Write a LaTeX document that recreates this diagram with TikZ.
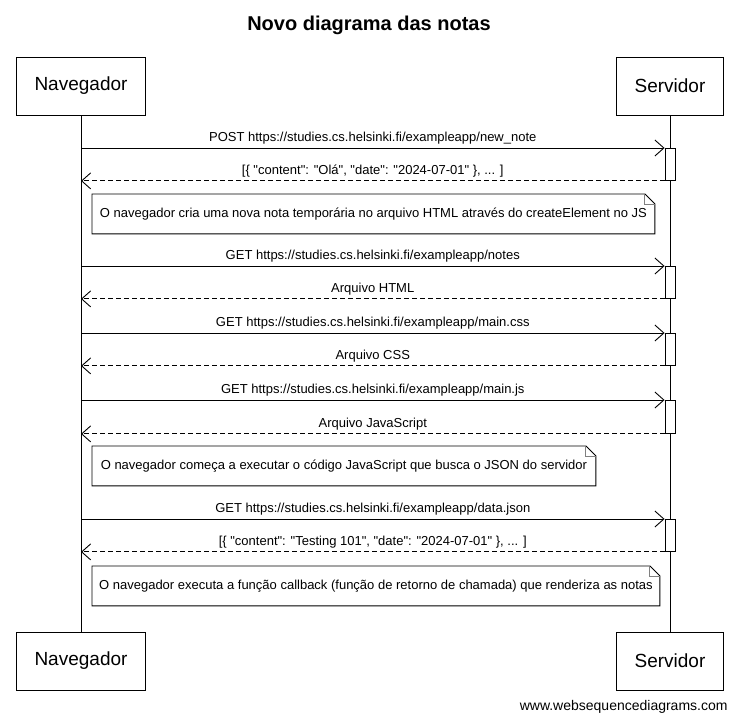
\documentclass[tikz,border=0pt]{standalone}
\usepackage{fontspec}
\setmainfont{Liberation Sans}[Ligatures=TeXOff]
\usetikzlibrary{arrows.meta,positioning}

\begin{document}
\begin{tikzpicture}[
x=1pt, y=-1pt,
line width=0.9pt,
participante/.style={
rectangle,
draw,
inner xsep=18pt,
minimum height=58pt,
font=\fontsize{19}{22}\selectfont
},
ativacao/.style={
rectangle,
draw,
fill=white,
inner sep=0pt,
anchor=north,
minimum width=10pt,
minimum height=32pt
},
nota/.style={
anchor=north west,
minimum height=39pt,
inner sep=0pt,
font=\fontsize{13}{15}\selectfont
},
dobra/.style={
draw=gray
},
msg/.style={
-{Straight Barb[length=9pt,width=16pt]}
},
ret/.style={
msg,
dash pattern=on 5pt off 3pt
},
rotulo/.style={
midway,
above,
inner sep=3pt,
font=\fontsize{13}{15}\selectfont
}
]
\useasboundingbox (0,0) rectangle (738,723);

% Titulo
\node[font=\fontsize{20}{24}\selectfont\bfseries] (titulo) at (369,25) {Novo diagrama das notas};

% Participantes
\node[participante] (nav) at (81,86) {Navegador};
\node[participante] (srv) at (670,86) {Servidor};
\node[participante] (nav-fim) at (81,661) {Navegador};
\node[participante] (srv-fim) at (670,661) {Servidor};
\draw (nav) -- (nav-fim);
\draw (srv) -- (srv-fim);

% Ativacoes
\node[ativacao] (ativ-post) at (670,148) {};
\node[ativacao] (ativ-notes) at (670,266) {};
\node[ativacao] (ativ-css) at (670,333) {};
\node[ativacao, minimum height=33pt] (ativ-js) at (670,400) {};
\node[ativacao] (ativ-json) at (670,519) {};

% Mensagens
\draw[msg] (nav |- ativ-post.north west) -- (ativ-post.north west) node[rotulo] {POST https://studies.cs.helsinki.fi/exampleapp/new\_note};
\draw[ret] (ativ-post.south west) -- (nav |- ativ-post.south west) node[rotulo] {[\{ "content": "Olá", "date": "2024-07-01" \}, ... ]};
\draw[msg] (nav |- ativ-notes.north west) -- (ativ-notes.north west) node[rotulo] {GET https://studies.cs.helsinki.fi/exampleapp/notes};
\draw[ret] (ativ-notes.south west) -- (nav |- ativ-notes.south west) node[rotulo] {Arquivo HTML};
\draw[msg] (nav |- ativ-css.north west) -- (ativ-css.north west) node[rotulo] {GET https://studies.cs.helsinki.fi/exampleapp/main.css};
\draw[ret] (ativ-css.south west) -- (nav |- ativ-css.south west) node[rotulo] {Arquivo CSS};
\draw[msg] (nav |- ativ-js.north west) -- (ativ-js.north west) node[rotulo] {GET https://studies.cs.helsinki.fi/exampleapp/main.js};
\draw[ret] (ativ-js.south west) -- (nav |- ativ-js.south west) node[rotulo] {Arquivo JavaScript};
\draw[msg] (nav |- ativ-json.north west) -- (ativ-json.north west) node[rotulo] {GET https://studies.cs.helsinki.fi/exampleapp/data.json};
\draw[ret] (ativ-json.south west) -- (nav |- ativ-json.south west) node[rotulo] {[\{ "content": "Testing 101", "date": "2024-07-01" \}, ... ]};

% Notas
\node[nota, minimum width=562pt] (nota-1) at (92,194) {O navegador cria uma nova nota temporária no arquivo HTML através do createElement no JS};
\node[nota, minimum width=503pt] (nota-2) at (92,446) {O navegador começa a executar o código JavaScript que busca o JSON do servidor};
\node[nota, minimum width=567pt] (nota-3) at (92,566) {O navegador executa a função callback (função de retorno de chamada) que renderiza as notas};
\draw (nota-1.north west) -- ([xshift=-10pt]nota-1.north east) -- ([yshift=-10pt]nota-1.north east) -- (nota-1.south east) -- (nota-1.south west) -- cycle;
\draw[dobra] ([xshift=-10pt]nota-1.north east) |- ([yshift=-10pt]nota-1.north east);
\draw (nota-2.north west) -- ([xshift=-10pt]nota-2.north east) -- ([yshift=-10pt]nota-2.north east) -- (nota-2.south east) -- (nota-2.south west) -- cycle;
\draw[dobra] ([xshift=-10pt]nota-2.north east) |- ([yshift=-10pt]nota-2.north east);
\draw (nota-3.north west) -- ([xshift=-10pt]nota-3.north east) -- ([yshift=-10pt]nota-3.north east) -- (nota-3.south east) -- (nota-3.south west) -- cycle;
\draw[dobra] ([xshift=-10pt]nota-3.north east) |- ([yshift=-10pt]nota-3.north east);

% Marca
\node[anchor=east, inner sep=0pt, font=\fontsize{14}{16}\selectfont] (marca) at (728,707) {www.websequencediagrams.com};
\end{tikzpicture}
\end{document}
